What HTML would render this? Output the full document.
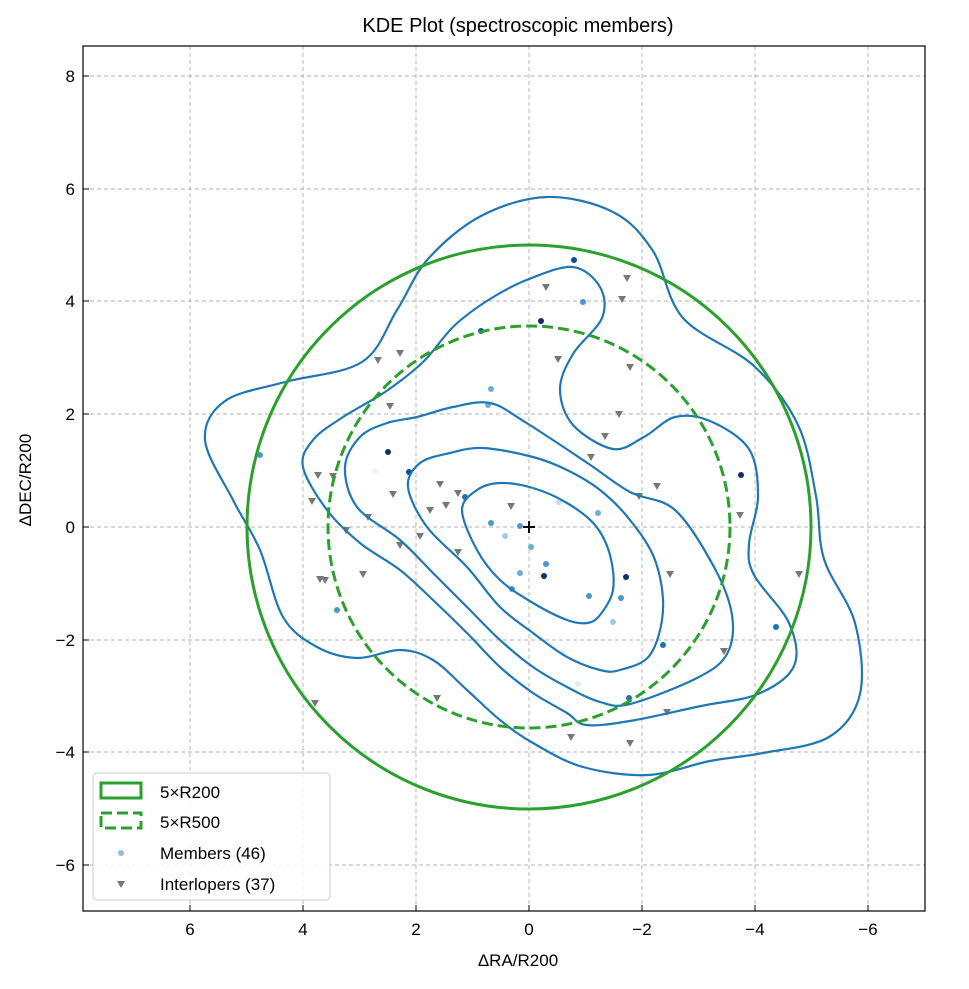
<!DOCTYPE html>
<html><head><meta charset="utf-8"><style>
body{margin:0;background:#fff;}
svg text{font-family:"Liberation Sans","DejaVu Sans",sans-serif;}
</style></head><body>
<svg id="s" width="969" height="984" xmlns="http://www.w3.org/2000/svg">
<rect width="969" height="984" fill="#fff"/>
<g stroke="#b0b0b0" stroke-dasharray="4,3" stroke-width="0.9">
<line x1="190" y1="46" x2="190" y2="911"/><line x1="303" y1="46" x2="303" y2="911"/>
<line x1="416" y1="46" x2="416" y2="911"/><line x1="529" y1="46" x2="529" y2="911"/>
<line x1="642" y1="46" x2="642" y2="911"/><line x1="755" y1="46" x2="755" y2="911"/>
<line x1="868" y1="46" x2="868" y2="911"/>
<line x1="83" y1="76" x2="925" y2="76"/><line x1="83" y1="189" x2="925" y2="189"/>
<line x1="83" y1="301" x2="925" y2="301"/><line x1="83" y1="414" x2="925" y2="414"/>
<line x1="83" y1="527" x2="925" y2="527"/><line x1="83" y1="640" x2="925" y2="640"/>
<line x1="83" y1="752" x2="925" y2="752"/><line x1="83" y1="865" x2="925" y2="865"/>
</g>
<g id="pts"></g>
<g id="cont" fill="none" stroke="#1f77b4" stroke-width="2.2"></g>
<circle cx="529" cy="527" r="282" fill="none" stroke="#2ca02c" stroke-width="3"/>
<circle cx="529" cy="527" r="201" fill="none" stroke="#2ca02c" stroke-width="3" stroke-dasharray="11,5"/>
<path d="M523 527h12M529 521v12" stroke="#000" stroke-width="2"/>
<rect x="83" y="46" width="842" height="865" fill="none" stroke="#000" stroke-width="1.2"/>
<g stroke="#000" stroke-width="1">
<path d="M190 911v-6M303 911v-6M416 911v-6M529 911v-6M642 911v-6M755 911v-6M868 911v-6"/>
<path d="M83 76h6M83 189h6M83 301h6M83 414h6M83 527h6M83 640h6M83 752h6M83 865h6"/>
</g>
<g font-size="17" fill="#000" text-anchor="middle">
<text x="190" y="935">6</text><text x="303" y="935">4</text><text x="416" y="935">2</text><text x="529" y="935">0</text>
<text x="642" y="935">−2</text><text x="755" y="935">−4</text><text x="868" y="935">−6</text>
</g>
<g font-size="17" fill="#000" text-anchor="end">
<text x="75" y="82">8</text><text x="75" y="195">6</text><text x="75" y="307">4</text><text x="75" y="420">2</text>
<text x="75" y="533">0</text><text x="75" y="646">−2</text><text x="75" y="758">−4</text><text x="75" y="871">−6</text>
</g>
<text x="518" y="32" font-size="20" text-anchor="middle">KDE Plot (spectroscopic members)</text>
<text x="518" y="966" font-size="17" text-anchor="middle">ΔRA/R200</text>
<text x="31" y="480" font-size="17" text-anchor="middle" transform="rotate(-90 31 480)">ΔDEC/R200</text>
<rect x="93" y="773" width="237" height="127" rx="4" fill="#fff" fill-opacity="0.85" stroke="#ccc"/>
<rect x="101" y="783" width="40" height="15" fill="none" stroke="#2ca02c" stroke-width="3"/>
<rect x="101" y="813" width="40" height="15" fill="none" stroke="#2ca02c" stroke-width="3" stroke-dasharray="11,5"/>
<circle cx="121" cy="853" r="3" fill="#8ebfdb"/>
<path d="M117 881h8l-4 7z" fill="#777"/>
<g font-size="17"><text x="160" y="798">5×R200</text><text x="160" y="828">5×R500</text>
<text x="160" y="859">Members (46)</text><text x="160" y="890">Interlopers (37)</text></g>
</svg>
<script>
var C=[
[[205,440],[225,401],[285,382],[362,362],[397,310],[428,259],[481,216],[547,197],[613,212],[653,251],[683,318],[754,366],[798,425],[816,496],[824,559],[855,623],[860,694],[829,737],[763,753],[710,761],[648,775],[583,767],[533,743],[500,720],[467,690],[433,660],[400,650],[357,658],[317,647],[283,617],[260,550],[233,500]],
[[303,467],[313,440],[343,417],[385,392],[423,362],[454,326],[490,299],[529,279],[573,267],[600,287],[602,318],[573,354],[560,389],[573,425],[613,449],[644,437],[675,417],[710,421],[749,449],[758,496],[749,544],[754,575],[789,623],[794,666],[758,694],[701,706],[630,721],[586,725],[567,713],[533,693],[500,667],[467,633],[433,600],[400,570],[360,543],[327,510]],
[[345,467],[360,437],[387,423],[417,417],[453,407],[490,403],[525,422],[586,462],[630,492],[675,510],[714,567],[732,615],[727,654],[697,678],[630,704],[600,702],[567,687],[533,667],[500,640],[467,607],[433,573],[400,540],[357,507]],
[[408,487],[420,463],[450,453],[483,448],[533,457],[567,470],[600,490],[630,520],[655,560],[663,610],[650,655],[620,670],[600,670],[567,657],[533,633],[500,607],[467,567],[427,527]],
[[462,510],[477,490],[500,483],[533,488],[567,503],[595,525],[610,555],[613,590],[600,615],[587,623],[567,620],[533,603],[500,580],[477,550]]];
var g=document.getElementById('cont'),ns='http://www.w3.org/2000/svg';
C.forEach(function(p){var n=p.length,d='M'+p[0];for(var i=0;i<n;i++){var a=p[(i-1+n)%n],b=p[i],c=p[(i+1)%n],e=p[(i+2)%n];
d+='C'+(b[0]+(c[0]-a[0])/6)+','+(b[1]+(c[1]-a[1])/6)+' '+(c[0]-(e[0]-b[0])/6)+','+(c[1]-(e[1]-b[1])/6)+' '+c;}
var el=document.createElementNS(ns,'path');el.setAttribute('d',d+'Z');g.appendChild(el);});
var P=document.getElementById('pts');
var B=[[260,455,'#4a98c9'],[388,452,'#08306b'],[409,472,'#08519c'],[465,497,'#2171b5'],[491,523,'#4a98c9'],[520,526,'#4a98c9'],[531,547,'#6aaed6'],[546,564,'#4a98c9'],[544,576,'#08306b'],[520,573,'#6aaed6'],[512,589,'#4a98c9'],[589,596,'#4a98c9'],[621,598,'#4a98c9'],[626,577,'#08306b'],[613,622,'#9ecae1'],[663,645,'#2171b5'],[629,698,'#2171b5'],[776,627,'#2171b5'],[741,475,'#08306b'],[598,513,'#6aaed6'],[574,260,'#08519c'],[583,302,'#4a98c9'],[541,321,'#08306b'],[481,331,'#08519c'],[491,389,'#6aaed6'],[488,405,'#6aaed6'],[337,610,'#4a98c9'],[375,471,'#eef'],[563,653,'#deebf7'],[578,684,'#deebf7'],[559,502,'#c6dbef'],[505,536,'#9ecae1']];
B.forEach(function(b){var c=document.createElementNS(ns,'circle');c.setAttribute('cx',b[0]);c.setAttribute('cy',b[1]);c.setAttribute('r',3);c.setAttribute('fill',b[2]);P.appendChild(c);});
var T=[[546,287],[558,359],[627,278],[622,299],[630,367],[619,414],[605,436],[591,457],[639,496],[657,486],[670,574],[799,574],[740,515],[378,360],[400,353],[390,406],[393,494],[368,517],[400,545],[420,536],[440,484],[458,493],[446,505],[430,510],[458,552],[511,506],[346,530],[318,475],[312,501],[333,476],[320,579],[325,580],[363,574],[315,703],[437,698],[571,737],[630,743],[667,712],[724,651]];
T.forEach(function(t){var e=document.createElementNS(ns,'path');e.setAttribute('d','M'+(t[0]-4)+' '+(t[1]-3)+'h8l-4 7z');e.setAttribute('fill','#777');P.appendChild(e);});
</script>
</body></html>
